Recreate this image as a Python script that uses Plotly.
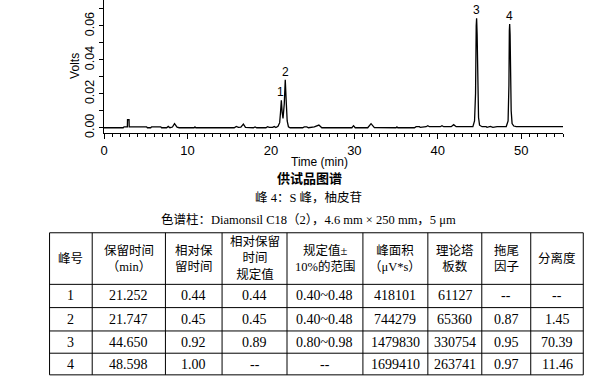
import plotly.graph_objects as go

# ---------------- data ----------------
time_min = [0, 2.3, 2.4, 2.8, 2.82, 3.0, 3.02, 5.1, 5.2, 5.6, 5.7, 6.8, 6.9, 7.5, 7.7, 7.9,
            8.2, 8.45, 8.75, 9.0, 10.8, 10.9, 11.0, 15.6, 15.85, 16.1, 16.4, 16.7, 16.95,
            17.9, 18.1, 18.3, 19.4, 19.6, 19.8, 20.2, 20.4, 20.6, 20.85, 21.05, 21.15,
            21.25, 21.35, 21.45, 21.6, 21.72, 21.85, 21.95, 22.1, 22.3, 23.8, 24.0, 24.3,
            24.5, 25.2, 25.75, 26.1, 29.7, 29.9, 30.1, 31.6, 32.0, 32.4, 35.0, 35.1, 35.2,
            37.2, 37.4, 37.8, 37.9, 38.6, 38.8, 39.0, 40.3, 40.5, 40.7, 41.6, 41.9, 42.2,
            44.2, 44.4, 44.52, 44.6, 44.65, 44.71, 44.78, 44.88, 45.0, 45.3, 45.8, 45.9, 46.3,
            46.6, 47.1, 48.2, 48.42, 48.52, 48.57, 48.61, 48.66, 48.71, 48.79, 48.9, 49.1,
            49.4, 55.0]
volts = [0, 0, 0.0005, 0.0005, 0.0047, 0.0047, 0.0005, 0.0005, 0.0, 0.0, 0.0005, 0.0005, 0,
         0, 0.0008, 0, 0.0004, 0.0024, 0.0003, 0, 0, 0.0005, 0, 0, 0.0008, 0.0002, 0.0004,
         0.0022, 0.0002, 0, 0.0005, 0, 0, 0.0006, 0.0002, 0.0002, 0.0007, 0.0001, 0.0008,
         0.003, 0.009, 0.0162, 0.009, 0.0055, 0.014, 0.0282, 0.014, 0.004, 0.0006, 0, 0,
         0.0005, 0.0005, 0, 0.0005, 0.0016, 0, 0, 0.0012, 0, 0, 0.0024, 0.0001, 0, 0.0005,
         0, 0, 0.0006, 0.0006, 0.0002, 0.0006, 0.0012, 0.0006, 0.0006, 0.0012, 0.0006,
         0.0006, 0.0018, 0.0006, 0.0006, 0.004, 0.02, 0.06, 0.0645, 0.055, 0.03, 0.006,
         0.0015, 0.0006, 0.0006, 0.0002, 0.0008, 0.0002, 0.0006, 0.0007, 0.004, 0.025,
         0.057, 0.0611, 0.055, 0.037, 0.01, 0.0025, 0.001, 0.0006, 0.0006]

peak_labels = ["1", "2", "3", "4"]
peak_times = [21.2, 21.8, 44.67, 48.62]
peak_heights = [0.0162, 0.0282, 0.0645, 0.0611]

x_title = "Time (min)"
y_title = "Volts"
caption_title = "供试品图谱"
caption_peak = "峰 4：S 峰，柚皮苷"
caption_column = "色谱柱：Diamonsil C18（2），4.6 mm × 250 mm，5 μm"

table_header = ["峰号", "保留时间<br>（min）", "相对保<br>留时间", "相对保留<br>时间<br>规定值",
                "规定值±<br>10%的范围", "峰面积<br>（μV*s）", "理论塔<br>板数", "拖尾<br>因子", "分离度"]
peak_no = ["1", "2", "3", "4"]
ret_time = ["21.252", "21.747", "44.650", "48.598"]
rel_rt = ["0.44", "0.45", "0.92", "1.00"]
rel_rt_spec = ["0.44", "0.45", "0.89", "--"]
rel_rt_range = ["0.40~0.48", "0.40~0.48", "0.80~0.98", "--"]
peak_area = ["418101", "744279", "1479830", "1699410"]
plates = ["61127", "65360", "330754", "263741"]
tailing = ["--", "0.87", "0.95", "0.97"]
resolution = ["--", "1.45", "70.39", "11.46"]
table_columns = [peak_no, ret_time, rel_rt, rel_rt_spec, rel_rt_range, peak_area, plates, tailing, resolution]

# ---------------- layout geometry (pixels) ----------------
W, H = 610, 381
L, R, T, B = 103.5, 47, 0, 247.7
PW, PH = W - L - R, H - T - B


def px_x(x):
    return (x - L) / PW


def px_y(y):
    return (T + PH - y) / PH


fig = go.Figure()
fig.add_trace(go.Scatter(x=time_min, y=volts, mode="lines",
                         line=dict(color="black", width=1.3), hoverinfo="skip", showlegend=False))

annotations = []
for lab, t, v in zip(peak_labels, peak_times, peak_heights):
    annotations.append(dict(x=t, y=v, xref="x", yref="y", text=lab, showarrow=False,
                            yanchor="bottom", xanchor="center", yshift=-1,
                            font=dict(family="Liberation Sans, Arial", size=12, color="black")))

annotations.append(dict(x=px_x(319.5), y=px_y(162.5), xref="paper", yref="paper", text=x_title,
                        showarrow=False, xanchor="center", yanchor="middle", borderpad=0,
                        font=dict(family="Liberation Sans, Arial", size=12, color="black")))
annotations.append(dict(x=px_x(75), y=px_y(66.5), xref="paper", yref="paper", text=y_title,
                        showarrow=False, xanchor="center", yanchor="middle", textangle=-90,
                        font=dict(family="Liberation Sans, Arial", size=12, color="black")))

cap_font = "Liberation Serif, Times New Roman, Noto Sans CJK SC"
annotations.append(dict(x=px_x(309), y=px_y(177.5), xref="paper", yref="paper",
                        text="<b>" + caption_title + "</b>", showarrow=False,
                        xanchor="center", yanchor="middle", borderpad=0,
                        font=dict(family="Noto Sans CJK SC", size=13, color="black")))
annotations.append(dict(x=px_x(308), y=px_y(198.3), xref="paper", yref="paper",
                        text=caption_peak, showarrow=False, xanchor="center", yanchor="middle",
                        font=dict(family=cap_font, size=12.5, color="black")))
annotations.append(dict(x=px_x(308), y=px_y(220), xref="paper", yref="paper",
                        text=caption_column, showarrow=False, xanchor="center", yanchor="middle",
                        font=dict(family=cap_font, size=12.5, color="black")))

# ---------------- table ----------------
col_edges = [49, 91.7, 165, 221.7, 286.7, 362.7, 427.7, 481.7, 530.7, 583.3]
row_edges = [233.3, 285, 308.3, 331.7, 354, 375.7]

shapes = []
for xe in col_edges:
    shapes.append(dict(type="line", xref="paper", yref="paper", x0=px_x(xe), x1=px_x(xe),
                       y0=px_y(row_edges[0]), y1=px_y(row_edges[-1]),
                       line=dict(color="black", width=1)))
for ye in row_edges:
    shapes.append(dict(type="line", xref="paper", yref="paper", x0=px_x(col_edges[0]),
                       x1=px_x(col_edges[-1]), y0=px_y(ye), y1=px_y(ye),
                       line=dict(color="black", width=1)))

for i, head in enumerate(table_header):
    cx = (col_edges[i] + col_edges[i + 1]) / 2
    cy = (row_edges[0] + row_edges[1]) / 2
    annotations.append(dict(x=px_x(cx), y=px_y(cy), xref="paper", yref="paper", text=head,
                            showarrow=False, xanchor="center", yanchor="middle", align="center",
                            font=dict(family=cap_font, size=12.5, color="black")))
for i, col in enumerate(table_columns):
    cx = (col_edges[i] + col_edges[i + 1]) / 2
    for r, val in enumerate(col):
        cy = (row_edges[r + 1] + row_edges[r + 2]) / 2
        annotations.append(dict(x=px_x(cx), y=px_y(cy), xref="paper", yref="paper", text=val,
                                showarrow=False, xanchor="center", yanchor="middle",
                                font=dict(family="Liberation Serif, Times New Roman", size=14,
                                          color="black")))

fig.update_layout(
    width=W, height=H,
    margin=dict(l=L, r=R, t=T, b=B, pad=0),
    paper_bgcolor="white", plot_bgcolor="white",
    showlegend=False,
    annotations=annotations,
    shapes=shapes,
    xaxis=dict(range=[0, 55], dtick=10, tick0=0, showgrid=False, zeroline=False,
               showline=True, linecolor="black", linewidth=1,
               ticks="outside", ticklen=5, tickcolor="black", tickwidth=1,
               minor=dict(dtick=1, ticks="outside", ticklen=3, tickcolor="black", showgrid=False),
               tickfont=dict(family="Liberation Sans, Arial", size=13, color="black")),
    yaxis=dict(range=[-0.0031, 0.0753], dtick=0.02, tick0=0, tickformat=".2f",
               showgrid=False, zeroline=False, showline=True, linecolor="black", linewidth=1,
               ticks="outside", ticklen=4, tickcolor="black", tickwidth=1, tickangle=-90,
               minor=dict(dtick=0.01, ticks="outside", ticklen=4, tickcolor="black", showgrid=False),
               tickfont=dict(family="Liberation Sans, Arial", size=12.5, color="black")),
)

fig.write_html("out.html", config={"displayModeBar": False},
               post_script="document.body.style.margin='0px';")
